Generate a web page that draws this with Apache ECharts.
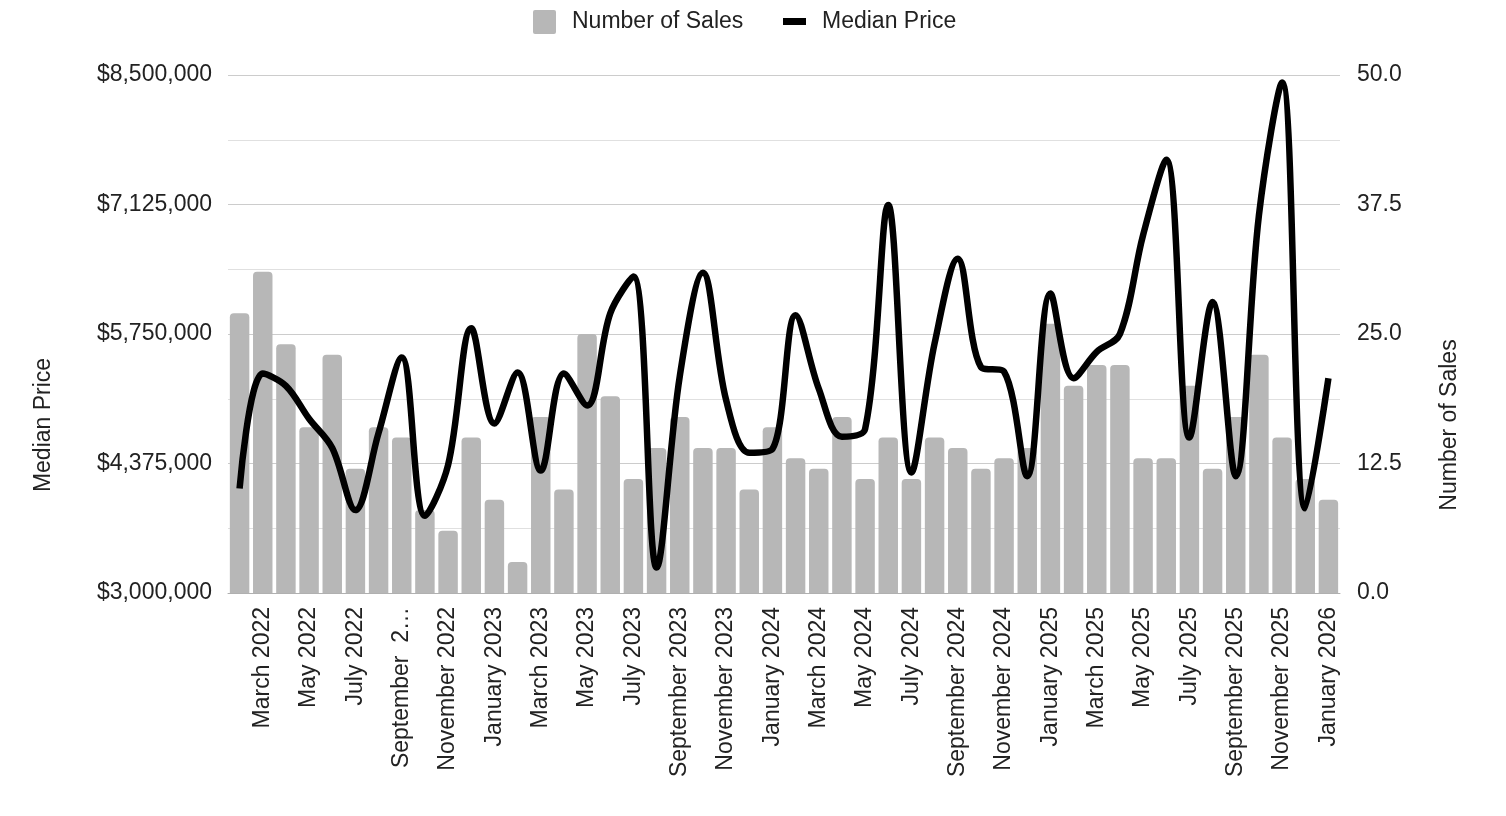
<!DOCTYPE html>
<html>
<head>
<meta charset="utf-8">
<script src="https://cdn.jsdelivr.net/npm/echarts@6/dist/echarts.min.js"></script>
<style>
  html, body { margin: 0; padding: 0; background: #fff; }
  #chart { width: 1506px; height: 816px; }
</style>
</head>
<body>
<div id="chart"></div>
<script>
const categories = [
  'February 2022','March 2022','April 2022','May 2022','June 2022','July 2022','August 2022','September 2022','October 2022','November 2022','December 2022',
  'January 2023','February 2023','March 2023','April 2023','May 2023','June 2023','July 2023','August 2023','September 2023','October 2023','November 2023','December 2023',
  'January 2024','February 2024','March 2024','April 2024','May 2024','June 2024','July 2024','August 2024','September 2024','October 2024','November 2024','December 2024',
  'January 2025','February 2025','March 2025','April 2025','May 2025','June 2025','July 2025','August 2025','September 2025','October 2025','November 2025','December 2025',
  'January 2026'
];
// labels shown on the axis (the reference truncates one of them)
const labelOverrides = { 'September 2022': 'September  2\u2026' };

const numberOfSales = [27,31,24,16,23,12,16,15,8,6,15,9,3,17,10,25,19,11,14,17,14,14,10,16,13,12,17,11,15,11,15,14,12,13,14,26,20,22,22,13,13,20,12,17,23,15,11,9];

const medianPrice = [
  4110000,5330000,5200000,4850000,4540000,3880000,4700000,5500000,3820000,4360000,5810000,
  4800000,5340000,4300000,5330000,4990000,5970000,6360000,3270000,5300000,6400000,5050000,4490000,
  4530000,5950000,5170000,4660000,4740000,7120000,4280000,5650000,6550000,5400000,5350000,4240000,
  6180000,5280000,5560000,5750000,6800000,7600000,4650000,6090000,4240000,7010000,8420000,3900000,
  5280000
];

const priceMin = 3000000, priceMax = 8500000, priceStep = 1375000;
const salesMin = 0, salesMax = 50, salesStep = 12.5;

const FONT = 'Liberation Sans, Arial, sans-serif';
const chart = echarts.init(document.getElementById('chart'));
chart.setOption({
  animation: false,
  textStyle: { fontFamily: FONT },
  grid: { left: 228, right: 166, top: 75, bottom: 223, containLabel: false },
  legend: [
    {
      data: [{ name: 'Number of Sales', icon: 'path://M2,0 H21 Q23,0 23,2 V22 Q23,24 21,24 H2 Q0,24 0,22 V2 Q0,0 2,0 Z' }],
      left: 528, top: 5,
      itemWidth: 23, itemHeight: 24,
      textStyle: { fontSize: 23, color: '#222', fontFamily: FONT, padding: [0, 0, 0, 11] }
    },
    {
      data: [{ name: 'Median Price', icon: 'rect' }],
      left: 778, top: 5,
      itemWidth: 23, itemHeight: 7,
      textStyle: { fontSize: 23, color: '#222', fontFamily: FONT, padding: [0, 0, 0, 11] }
    }
  ],
  graphic: [
    { type: 'text', x: 44, y: 425, rotation: Math.PI / 2,
      style: { text: 'Median Price', fontSize: 23, fontFamily: FONT, fill: '#222', align: 'center', verticalAlign: 'middle' } },
    { type: 'text', x: 1450, y: 425, rotation: Math.PI / 2,
      style: { text: 'Number of Sales', fontSize: 23, fontFamily: FONT, fill: '#222', align: 'center', verticalAlign: 'middle' } }
  ],
  xAxis: {
    type: 'category',
    data: categories,
    boundaryGap: true,
    axisLine: { show: true, lineStyle: { color: '#b0b0b0', width: 1 } },
    axisTick: { show: false },
    axisLabel: {
      rotate: 90,
      fontSize: 23,
      color: '#222',
      fontFamily: FONT,
      margin: 14,
      interval: function (idx) { return idx % 2 === 1; },
      formatter: function (v) { return labelOverrides[v] || v; }
    }
  },
  yAxis: [
    {
      type: 'value',
      min: priceMin, max: priceMax, interval: priceStep,
      axisLine: { show: false }, axisTick: { show: false },
      axisLabel: {
        fontSize: 23, color: '#222', fontFamily: FONT, margin: 16, padding: [5, 0, 0, 0],
        formatter: function (v) { return '$' + Math.round(v).toLocaleString('en-US'); }
      },
      splitLine: { show: true, lineStyle: { color: '#cccccc', width: 1 } },
      minorTick: { show: false, splitNumber: 2 },
      minorSplitLine: { show: true, lineStyle: { color: '#e0e0e0', width: 1 } }
    },
    {
      type: 'value',
      min: salesMin, max: salesMax, interval: salesStep,
      axisLine: { show: false }, axisTick: { show: false },
      axisLabel: {
        fontSize: 23, color: '#222', fontFamily: FONT, margin: 17, padding: [5, 0, 0, 0],
        formatter: function (v) { return v.toFixed(1); }
      },
      splitLine: { show: false }
    }
  ],
  series: [
    {
      name: 'Number of Sales',
      type: 'bar',
      yAxisIndex: 1,
      data: numberOfSales,
      barCategoryGap: '16%',
      itemStyle: { color: '#b7b7b7', borderRadius: [4, 4, 0, 0] },
      z: 2
    },
    {
      name: 'Median Price',
      type: 'line',
      yAxisIndex: 0,
      data: medianPrice,
      smooth: 0.35,
      showSymbol: false,
      symbol: 'none',
      itemStyle: { color: '#000' },
      lineStyle: { color: '#000', width: 6.5 },
      z: 3
    }
  ]
});
</script>
</body>
</html>
